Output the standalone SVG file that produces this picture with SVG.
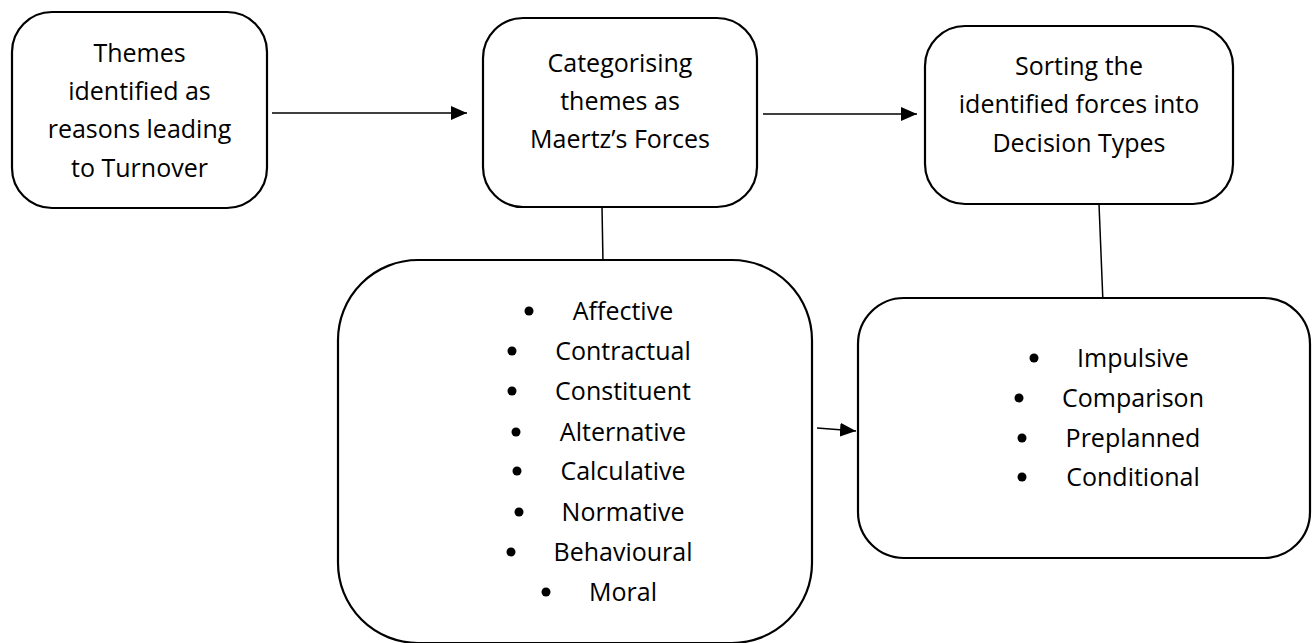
<svg xmlns="http://www.w3.org/2000/svg" width="1315" height="643" viewBox="0 0 1315 643">
<style>
.box{fill:#fff;stroke:#000;stroke-width:2.2}
.t{font-family:"Open Sans","Liberation Sans",sans-serif;font-size:25px;fill:#000;text-anchor:middle}
.c{stroke:#000;stroke-width:1.5;fill:none}
.b{fill:#000}
</style>
<defs>
<marker id="ah2" markerWidth="16" markerHeight="14" refX="16" refY="7" orient="auto" markerUnits="userSpaceOnUse" viewBox="0 0 16 14">
<path d="M0,0 L16,7 L0,14 Z" fill="#000"/>
</marker>
</defs>
<g id="connectors">
<line class="c" x1="272" y1="113" x2="467" y2="113" marker-end="url(#ah2)"/>
<line class="c" x1="763" y1="114" x2="917" y2="114" marker-end="url(#ah2)"/>
<line class="c" x1="602" y1="207" x2="603" y2="263"/>
<line class="c" x1="1099" y1="204" x2="1103" y2="303"/>
<line class="c" x1="817" y1="428" x2="856" y2="431" marker-end="url(#ah2)"/>
</g>
<g id="themes">
<rect class="box" x="12" y="12" width="255" height="196" rx="40"/>
<text class="t" x="139.5" y="62">Themes</text>
<text class="t" x="139.5" y="100">identified as</text>
<text class="t" x="139.5" y="138">reasons leading</text>
<text class="t" x="139.5" y="177">to Turnover</text>
</g>
<g id="categorising">
<rect class="box" x="483" y="18" width="274" height="189" rx="40"/>
<text class="t" x="620" y="72">Categorising</text>
<text class="t" x="620" y="110">themes as</text>
<text class="t" x="620" y="148">Maertz’s Forces</text>
</g>
<g id="sorting">
<rect class="box" x="925" y="26" width="308" height="178" rx="40"/>
<text class="t" x="1079" y="75">Sorting the</text>
<text class="t" x="1079" y="113">identified forces into</text>
<text class="t" x="1079" y="152">Decision Types</text>
</g>
<g id="forces">
<rect class="box" x="338" y="260" width="474" height="383" rx="80"/>
<circle class="b" cx="529" cy="311" r="4.5"/><text class="t" x="623" y="320">Affective</text>
<circle class="b" cx="512" cy="351" r="4.5"/><text class="t" x="623" y="360">Contractual</text>
<circle class="b" cx="512" cy="391" r="4.5"/><text class="t" x="623" y="400">Constituent</text>
<circle class="b" cx="516" cy="432" r="4.5"/><text class="t" x="623" y="441">Alternative</text>
<circle class="b" cx="517" cy="471" r="4.5"/><text class="t" x="623" y="480">Calculative</text>
<circle class="b" cx="519" cy="512" r="4.5"/><text class="t" x="623" y="521">Normative</text>
<circle class="b" cx="511" cy="552" r="4.5"/><text class="t" x="623" y="561">Behavioural</text>
<circle class="b" cx="546" cy="592" r="4.5"/><text class="t" x="623" y="601">Moral</text>
</g>
<g id="decision-types">
<rect class="box" x="858" y="298" width="452" height="260" rx="46"/>
<circle class="b" cx="1034" cy="358" r="4.5"/><text class="t" x="1133" y="367">Impulsive</text>
<circle class="b" cx="1019" cy="398" r="4.5"/><text class="t" x="1133" y="407">Comparison</text>
<circle class="b" cx="1022" cy="438" r="4.5"/><text class="t" x="1133" y="447">Preplanned</text>
<circle class="b" cx="1022" cy="477" r="4.5"/><text class="t" x="1133" y="486">Conditional</text>
</g>
</svg>
